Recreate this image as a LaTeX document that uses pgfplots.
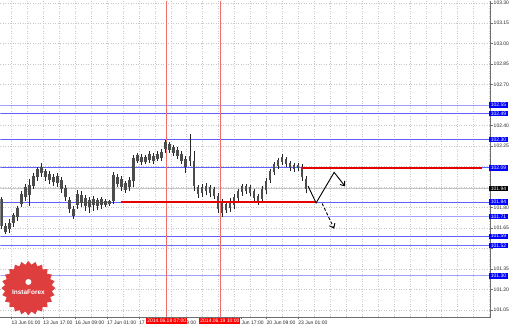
\documentclass[border=0pt]{standalone}
\usepackage{fontspec}
\setmainfont{Liberation Sans}
\usepackage{pgfplots}
\usepackage{pgfplotstable}
\pgfplotsset{compat=1.18}
\usetikzlibrary{arrows.meta,shapes.geometric}
\definecolor{lblue}{RGB}{95,95,255}
\definecolor{lav}{RGB}{160,160,255}
\definecolor{vred}{RGB}{240,110,110}
\definecolor{hred}{RGB}{230,0,0}
\definecolor{axgray}{RGB}{110,110,110}
\definecolor{gridc}{RGB}{200,200,200}
\definecolor{logored}{RGB}{222,62,62}
\pgfplotsset{base/.style={scale only axis, width=489bp, height=316bp,
  xmin=0, xmax=489, ymin=100.995, ymax=103.315,
  ticklabel style={font=\fontsize{5}{6}\selectfont}}}
\pgfplotstableread{
x lo hi blo bhi
1 101.643 101.877 101.665 101.863
5 101.607 101.687 101.621 101.665
9 101.614 101.716 101.643 101.687
13 101.658 101.760 101.687 101.746
17 101.702 101.811 101.731 101.797
21 101.804 101.921 101.826 101.899
25 101.848 101.972 101.877 101.950
29 101.811 102.009 101.892 101.965
33 101.936 102.053 101.958 102.031
37 101.994 102.097 102.023 102.082
41 102.023 102.126 102.053 102.097
45 101.994 102.082 102.023 102.067
49 101.972 102.067 102.002 102.045
53 101.958 102.045 101.987 102.023
57 101.950 102.053 101.980 102.031
61 101.906 102.023 101.936 102.002
65 101.848 101.965 101.877 101.943
69 101.760 101.877 101.790 101.855
73 101.716 101.811 101.738 101.790
77 101.790 101.928 101.819 101.899
81 101.804 101.921 101.833 101.892
85 101.775 101.892 101.811 101.870
89 101.760 101.877 101.804 101.855
93 101.775 101.885 101.819 101.863
97 101.782 101.870 101.811 101.855
101 101.790 101.877 101.819 101.863
105 101.804 101.863 101.819 101.848
109 101.811 101.855 101.826 101.848
113 101.826 102.060 101.848 102.038
117 101.950 102.045 101.972 102.023
121 101.921 102.031 101.950 102.009
125 101.906 101.994 101.928 101.980
129 101.921 102.023 101.950 102.002
133 101.950 102.184 101.994 102.162
137 102.126 102.199 102.140 102.184
141 102.111 102.192 102.133 102.170
145 102.118 102.184 102.133 102.170
149 102.126 102.214 102.148 102.192
153 102.118 102.199 102.140 102.177
157 102.140 102.214 102.155 102.192
161 102.140 102.228 102.162 102.206
165 102.199 102.294 102.228 102.279
169 102.199 102.279 102.221 102.265
173 102.177 102.257 102.199 102.243
177 102.155 102.243 102.177 102.221
181 102.118 102.214 102.140 102.192
185 102.053 102.177 102.097 102.155
189 102.104 102.338 102.140 102.177
193 101.921 102.214 101.958 102.140
197 101.870 101.965 101.899 101.950
201 101.877 101.972 101.906 101.950
205 101.892 101.980 101.921 101.958
209 101.877 101.965 101.906 101.950
213 101.863 101.950 101.885 101.936
217 101.760 101.906 101.790 101.885
221 101.731 101.863 101.760 101.833
225 101.760 101.848 101.782 101.826
229 101.768 101.870 101.797 101.848
233 101.790 101.899 101.819 101.877
237 101.848 101.936 101.870 101.921
241 101.885 101.972 101.914 101.958
245 101.899 101.972 101.921 101.958
249 101.885 101.965 101.906 101.950
253 101.848 101.936 101.870 101.921
257 101.819 101.899 101.841 101.885
261 101.833 101.958 101.863 101.936
265 101.899 102.016 101.928 101.994
269 101.980 102.082 102.002 102.067
273 102.038 102.133 102.060 102.118
277 102.082 102.162 102.104 102.148
281 102.111 102.192 102.133 102.170
285 102.097 102.170 102.118 102.155
289 102.067 102.140 102.089 102.126
293 102.060 102.126 102.082 102.111
297 102.067 102.126 102.089 102.111
301 101.994 102.118 102.023 102.097
305 101.906 102.031 101.936 102.009
}\candles
\begin{document}
\begin{tikzpicture}
\begin{axis}[base,
  axis x line*=bottom, axis y line*=right,
  axis line style={axgray, line width=0.7bp},
  every inner x axis line/.append style={-}, every inner y axis line/.append style={-},
  tick align=outside, major tick length=2bp, minor tick length=0pt,
  tick style={axgray, line width=0.5bp},
  ticklabel style={text=black!85},
  xtick={11,42.8,74.6,106.4,138.2,185.5,240.5,265.4,297.2},
  xticklabels={13 Jun 01:00,13 Jun 17:00,16 Jun 09:00,17 Jun 01:00,17 J,9:00,Jun 17:00,20 Jun 09:00,23 Jun 01:00},
  xticklabel style={anchor=north west, xshift=-1bp, inner sep=1pt},
  minor xtick={11,26.9,42.8,58.7,74.6,90.5,106.4,122.3,138.2,154.1,170,185.9,201.8,217.7,233.6,249.5,265.4,281.3,297.2,313.1,329,344.9,360.8,376.7,392.6,408.5,424.4,440.3,456.2,472.1,488},
  xminorgrids=true, xmajorgrids=false, ymajorgrids=true,
  grid style={gridc, dash pattern=on 1bp off 1.5bp, line width=0.5bp},
  minor grid style={gridc, dash pattern=on 1bp off 1.5bp, line width=0.5bp},
  ytick={101.05,101.20,101.35,101.50,101.65,101.80,101.95,102.10,102.25,102.40,102.55,102.70,102.85,103.00,103.15,103.30},
  yticklabels={101.05,101.20,101.35,{},101.65,101.80,{},{},102.25,102.40,{},102.70,102.85,103.00,103.15,103.30},
  yticklabel style={anchor=west, inner sep=1pt},
  clip=true,
]
% horizontal levels
\addplot[color=lav, line width=1bp] coordinates {(0,102.55) (489,102.55)};
\addplot[color=lblue, line width=1bp] coordinates {(0,102.49) (489,102.49)};
\addplot[color=lblue, line width=1bp] coordinates {(0,102.30) (489,102.30)};
\addplot[color=lblue, line width=1bp] coordinates {(0,102.09) (489,102.09)};
\addplot[color=black!22, line width=0.8bp] coordinates {(0,101.94) (489,101.94)};
\addplot[color=lblue, line width=1bp] coordinates {(0,101.84) (489,101.84)};
\addplot[color=lav, line width=1.1bp] coordinates {(0,101.735) (489,101.735)};
\addplot[color=lblue, line width=1bp] coordinates {(0,101.59) (489,101.59)};
\addplot[color=lblue!80!lav, line width=1bp] coordinates {(0,101.52) (489,101.52)};
\addplot[color=lav, line width=1.1bp] coordinates {(0,101.30) (489,101.30)};
% vertical time markers
\addplot[color=vred, line width=0.7bp] coordinates {(166,100.995) (166,103.315)};
\addplot[color=vred, line width=0.7bp] coordinates {(219,100.995) (219,103.315)};
% candles: wicks
\addplot[draw=none, mark=none, forget plot,
  error bars/.cd, y dir=plus, y explicit, error mark=none,
  error bar style={draw=black!85, solid, line width=0.6bp}]
  table[x=x, y=lo, y error expr=\thisrow{hi}-\thisrow{lo}] {\candles};
% candles: bodies
\addplot[draw=none, mark=none, forget plot,
  error bars/.cd, y dir=plus, y explicit, error mark=none,
  error bar style={draw=black!70, solid, line width=2.6bp}]
  table[x=x, y=blo, y error expr=\thisrow{bhi}-\thisrow{blo}] {\candles};
% red levels
\addplot[color=hred, line width=2bp] coordinates {(120,101.84) (315,101.84)};
\addplot[color=hred, line width=2bp] coordinates {(300,102.093) (480,102.093)};
% forecast arrows
\addplot[color=black, line width=0.9bp, -{Straight Barb[length=4bp, width=6bp]}]
  coordinates {(307,101.957) (315,101.834) (333,102.058) (344,101.955)};
\addplot[color=black, line width=0.9bp, dash pattern=on 3bp off 2bp, -{Straight Barb[length=4bp, width=6bp]}]
  coordinates {(321,101.830) (333,101.645)};
% logo
\node[star, star points=24, star point ratio=1.15, fill=logored, minimum size=54bp, inner sep=0pt] at (axis cs:28,101.21) {};
\node[text=white, font=\fontsize{6.5}{7}\selectfont\bfseries] at (axis cs:28,101.18) {InstaForex};
\node[fill=white, circle, minimum size=6bp, inner sep=0pt] at (axis cs:28,101.255) {};
\end{axis}
% highlighted level labels (blue)
\begin{axis}[base,
  axis x line=none, axis y line*=right, axis line style={draw=none},
  major tick length=0pt,
  ytick={102.55,102.49,102.30,102.09,101.84,101.735,101.59,101.52,101.30},
  yticklabels={102.55,102.49,102.30,102.09,101.84,101.71,101.59,101.52,101.30},
  yticklabel style={anchor=west, fill=blue, text=white, inner xsep=1.6bp, inner ysep=0.9bp, xshift=-1.5bp},
]
\end{axis}
% current price (black) and time markers (red)
\begin{axis}[base,
  axis x line*=bottom, axis y line*=right, axis line style={draw=none},
  major tick length=0pt,
  ytick={101.94}, yticklabels={101.94},
  yticklabel style={anchor=west, fill=black, text=white, inner xsep=1.6bp, inner ysep=0.9bp, xshift=-1.5bp},
  xtick={166,219}, xticklabels={2014.06.18 07:00,2014.06.19 10:00},
  xticklabel style={anchor=north, fill=red, text=white, inner xsep=1pt, inner ysep=1pt, yshift=-0.5bp},
]
\end{axis}
\end{tikzpicture}
\end{document}
